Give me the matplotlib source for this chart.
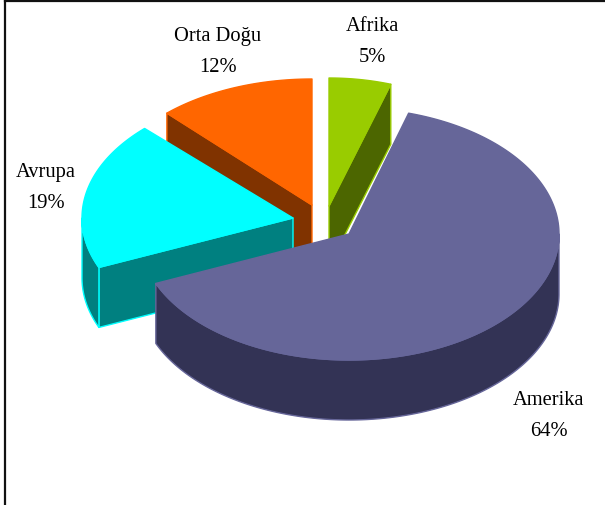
import numpy as np
import matplotlib
matplotlib.use("Agg")
import matplotlib.pyplot as plt
from matplotlib.patches import Polygon

# data
categories = ["Amerika", "Avrupa", "Orta Doğu", "Afrika"]
values = [64, 19, 12, 5]

# layout (pixel-like axes coordinates, y downward)
W, H = 605, 506
START = 16.5
DEPTH = 60
layout = {
    "Amerika":   dict(apex=(349, 235), a=210, b=126, rot=0.0, top="#666699", side="#333355", edge="#666699", label=(549, 416)),
    "Avrupa":    dict(apex=(293, 219), a=211, b=126, rot=0.0, top="#00FFFF", side="#008080", edge="#00FFFF", label=(46, 188)),
    "Orta Doğu": dict(apex=(312, 206), a=212, b=126, rot=1.5, top="#FF6600", side="#803300", edge="#FF6600", label=(218, 52)),
    "Afrika":    dict(apex=(329, 207), a=200, b=128, rot=1.5, top="#99CC00", side="#4C6600", edge="#99CC00", label=(372, 42)),
}
draw_order = ["Orta Doğu", "Afrika", "Avrupa", "Amerika"]

fig = plt.figure(figsize=(W / 100, H / 100), dpi=100, facecolor="white")
ax = fig.add_axes([5 / W, 0, 1 - 5 / W, 1 - 2 / H])
ax.set_xlim(5, W)
ax.set_ylim(H, 2)
ax.set_xticks([])
ax.set_yticks([])
for s in ("right", "bottom"):
    ax.spines[s].set_visible(False)
for s in ("left", "top"):
    ax.spines[s].set_linewidth(1.6)
    ax.spines[s].set_color("#111111")
    ax.spines[s].set_clip_on(False)

# wedge angles clockwise from 12 o'clock, from the values
total = sum(values)
spans = {}
cur = START
for c, v in zip(categories, values):
    r = layout[c]["rot"]
    spans[c] = (cur + r, cur + 360 * v / total + r)
    cur += 360 * v / total


def rim(st, t0, t1):
    t = np.radians(np.linspace(t0, t1, max(2, int(abs(t1 - t0)) * 2 + 2)))
    return np.column_stack([st["apex"][0] + st["a"] * np.sin(t),
                            st["apex"][1] - st["b"] * np.cos(t)])


def add(pts, face, edge, z):
    ax.add_patch(Polygon(pts, closed=True, facecolor=face, edgecolor=edge,
                         linewidth=1.0, joinstyle="round", zorder=z))


down = np.array([0, DEPTH])
z = 2
for c in draw_order:
    st = layout[c]
    t0, t1 = spans[c]
    apex = np.array(st["apex"], float)
    # side faces: the cut faces and wall that look toward the viewer
    if c == "Orta Doğu":
        p = rim(st, t0, t0)[0]
        add([p, apex, apex + down, p + down], st["side"], st["edge"], z)
    elif c == "Afrika":
        p = rim(st, t1, t1)[0]
        add([apex, p, p + down, apex + down], st["side"], st["edge"], z)
    elif c == "Avrupa":
        p = rim(st, t0, t0)[0]
        add([apex, p, p + down, apex + down], st["side"], st["edge"], z)
        r = rim(st, t0, 270)
        add(np.vstack([r, r[::-1] + down]), st["side"], st["edge"], z)
    elif c == "Amerika":
        r = rim(st, 90, t1)
        add(np.vstack([r, r[::-1] + down]), st["side"], st["edge"], z)
    # top surface
    add(np.vstack([apex, rim(st, t0, t1)]), st["top"], st["edge"], z + 1)
    z += 2

for c, v in zip(categories, values):
    x, y = layout[c]["label"]
    ax.text(x, y, f"{c}\n{v}%", ha="center", va="center", fontsize=14.8,
            family="Liberation Serif", color="#000000", linespacing=1.9, zorder=20)

fig.savefig("out.png", dpi=100)
